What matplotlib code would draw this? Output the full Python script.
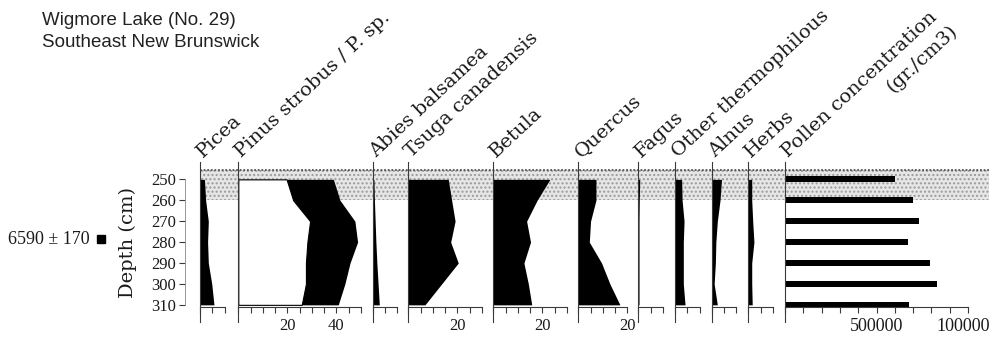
import numpy as np
import matplotlib.pyplot as plt
from matplotlib.patches import Rectangle
from matplotlib.lines import Line2D
from matplotlib.ticker import FixedLocator, FuncFormatter
from matplotlib.transforms import blended_transform_factory

# sample depths (cm) and percentages
depth = [250, 260, 270, 280, 290, 300, 310]
picea = [1.8, 2.3, 3.4, 3.1, 3.4, 4.8, 5.7]
pinus_strobus = [19.7, 22.4, 29.3, 28.2, 27.6, 27.6, 25.9]
pinus_sp = [19.1, 19.1, 18.3, 20.5, 18.0, 15.9, 14.9]
abies = [0.5, 0.7, 1.0, 1.3, 1.7, 2.2, 2.7]
tsuga = [16.3, 17.7, 19.1, 17.3, 20.4, 13.6, 6.8]
betula = [23.1, 17.9, 13.6, 15.2, 12.5, 14.3, 15.7]
quercus = [7.2, 7.2, 5.0, 4.5, 9.5, 12.9, 17.0]
fagus = [0.6, 0.4, 0.3, 0.3, 0.3, 0.3, 0.3]
other_thermo = [2.7, 2.9, 3.7, 3.4, 3.4, 3.4, 4.1]
alnus = [4.0, 3.4, 2.3, 1.7, 1.5, 1.0, 2.3]
herbs = [1.4, 1.4, 1.8, 2.3, 1.4, 1.4, 1.6]
pollen_conc = [600000, 700000, 730000, 670000, 790000, 830000, 680000]

depth_ticks = [250, 260, 270, 280, 290, 300, 310]
shade_top, shade_bottom = 245.5, 260
date_text = "6590 ± 170"
date_depth = 278.6

# (label, values, axis max, labelled ticks)
panels = [
    ("Picea", picea, 10, []),
    ("Pinus strobus / P. sp.", None, 50, [20, 40]),
    ("Abies balsamea", abies, 10, []),
    ("Tsuga canadensis", tsuga, 30, [20]),
    ("Betula", betula, 30, [20]),
    ("Quercus", quercus, 20, [20]),
    ("Fagus", fagus, 10, []),
    ("Other thermophilous", other_thermo, 10, []),
    ("Alnus", alnus, 10, []),
    ("Herbs", herbs, 10, []),
]

# layout in pixels of the 989x337 picture
W, H = 989, 337
lefts = [200, 238.3, 372.7, 408.3, 493.3, 578.3, 638.3, 675, 711.7, 748.3]
px_per_pct = 2.45
pollen_left, pollen_width = 785, 183
top_px, bot_px = 162, 322
ylim = (318.2, 241.7)
axis_depth = 311.2

serif = "DejaVu Serif"
num_font = "Liberation Serif"
line_col = "#3a3a3a"
text_col = "#1a1a1a"

fig = plt.figure(figsize=(W / 100, H / 100), dpi=100)


def box(left, width):
    return [left / W, 1 - bot_px / H, width / W, (bot_px - top_px) / H]


def style_axis(ax, xmax, step, labelled, fmt, size=12):
    ax.set_xlim(0, xmax)
    ax.set_ylim(*ylim)
    ax.patch.set_visible(False)
    for s in ["top", "right"]:
        ax.spines[s].set_visible(False)
    ax.spines["bottom"].set_position(("data", axis_depth))
    ax.spines["bottom"].set_bounds(0, xmax)
    for s in ["bottom", "left"]:
        ax.spines[s].set_color(line_col)
        ax.spines[s].set_linewidth(0.8)
    ax.set_yticks([])
    ticks = np.arange(0, xmax + step / 2, step)
    ax.xaxis.set_major_locator(FixedLocator(ticks))
    ax.xaxis.set_major_formatter(
        FuncFormatter(lambda v, p: fmt(v) if any(abs(v - l) < 1e-6 for l in labelled) else ""))
    ax.tick_params(axis="x", direction="out", length=4, width=0.8, color=line_col,
                   labelsize=size, pad=3.5, labelcolor=text_col)
    for t in ax.get_xticklabels():
        t.set_fontfamily(num_font)


axes = []
for (name, vals, xmax, labelled), left in zip(panels, lefts):
    ax = fig.add_axes(box(left, xmax * px_per_pct))
    style_axis(ax, xmax, 5, labelled, lambda v: f"{v:.0f}")
    if vals is None:
        total = np.array(pinus_strobus) + np.array(pinus_sp)
        ax.fill_betweenx(depth, 0, pinus_strobus, facecolor="white",
                         edgecolor="black", lw=0.8, zorder=2)
        ax.fill_betweenx(depth, pinus_strobus, total, color="black", lw=0, zorder=3)
    else:
        ax.fill_betweenx(depth, 0, vals, color="black", lw=0, zorder=2)
    fig.text((left + 3) / W, 1 - 158 / H, name, rotation=43, rotation_mode="anchor",
             ha="left", va="baseline", fontfamily=serif, fontsize=14, color=text_col)
    axes.append(ax)

# pollen concentration bars
axp = fig.add_axes(box(pollen_left, pollen_width))
style_axis(axp, 1000000, 100000, [500000, 1000000], lambda v: f"{v:.0f}", size=13)
axp.barh(depth, pollen_conc, height=3.0, color="black", zorder=2)
fig.text((pollen_left + 3) / W, 1 - 158 / H, "Pollen concentration", rotation=43,
         rotation_mode="anchor", ha="left", va="baseline", fontfamily=serif, fontsize=14,
         color=text_col)
fig.text(893 / W, 1 - 93 / H, "(gr./cm3)", rotation=43, rotation_mode="anchor",
         ha="left", va="baseline", fontfamily=serif, fontsize=14, color=text_col)

# stippled band across all panels
ax0 = axes[0]
tr = blended_transform_factory(fig.transFigure, ax0.transData)
band = Rectangle((lefts[0] / W, shade_top), 1 - lefts[0] / W, shade_bottom - shade_top,
                 transform=tr, facecolor="#e6e6e6", edgecolor="#9a9a9a", hatch="....",
                 lw=0, zorder=0.5, clip_on=False)
ax0.add_patch(band)
ax0.add_line(Line2D([lefts[0] / W, 1], [shade_top, shade_top], transform=tr, color="#555555",
                    lw=1.3, ls=(0, (1, 1)), zorder=0.6, clip_on=False))

# depth axis
axd = fig.add_axes(box(185, 1))
axd.set_ylim(*ylim)
axd.patch.set_visible(False)
for s in ["top", "right", "bottom"]:
    axd.spines[s].set_visible(False)
axd.spines["left"].set_bounds(depth_ticks[0], depth_ticks[-1])
axd.spines["left"].set_color("#888888")
axd.spines["left"].set_linewidth(0.6)
axd.set_xticks([])
axd.set_yticks(depth_ticks)
axd.tick_params(axis="y", direction="out", length=4.5, width=0.8, color=line_col,
                labelsize=12, pad=2, labelcolor=text_col)
for t in axd.get_yticklabels():
    t.set_fontfamily(num_font)
fig.text(128 / W, 1 - 242 / H, "Depth (cm)", rotation=90, ha="center", va="center",
         fontfamily=serif, fontsize=14, color=text_col)

# radiocarbon date
trd = blended_transform_factory(fig.transFigure, axd.transData)
fig.text(8 / W, date_depth, date_text, transform=trd, ha="left", va="center",
         fontfamily=num_font, fontsize=13, color=text_col)
axd.add_line(Line2D([100.5 / W], [date_depth], transform=trd, marker="s", ms=5.5,
                    color="black", clip_on=False))

# site title
fig.text(42 / W, 1 - 25 / H, "Wigmore Lake (No. 29)", fontfamily="Liberation Sans",
         fontsize=13.5, va="baseline", color="#222222")
fig.text(42 / W, 1 - 47 / H, "Southeast New Brunswick", fontfamily="Liberation Sans",
         fontsize=13.5, va="baseline", color="#222222")

fig.savefig("out.png", dpi=100)
